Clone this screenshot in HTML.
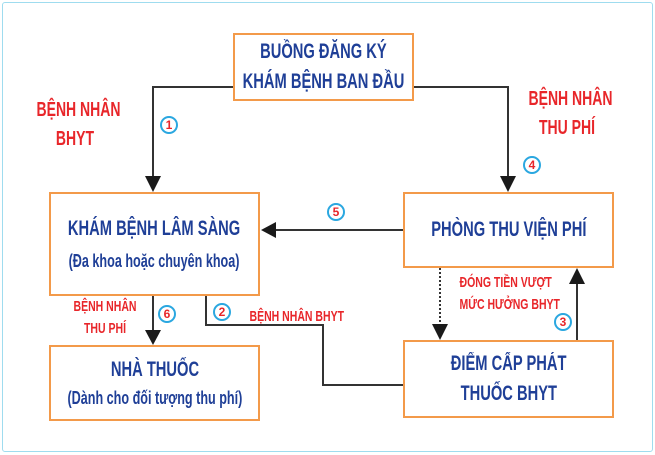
<!DOCTYPE html>
<html><head><meta charset="utf-8"><style>
body{margin:0;width:655px;height:455px;background:#fff;overflow:hidden;position:relative;font-family:"Liberation Sans",sans-serif;font-weight:bold}
.frame{position:absolute;left:2px;top:2px;width:649px;height:448px;border:1.5px solid #9fdcef;border-radius:3px}
.box{position:absolute;border:2px solid #f39a4a;background:#fff;color:#1f3f97;text-align:center;box-sizing:border-box;display:flex;flex-direction:column;justify-content:center;align-items:center}
span{display:block;white-space:nowrap;transform:scaleX(.7);transform-origin:center}
.t{font-size:21px;line-height:30px}
.s{font-size:18px;line-height:27px}
.r{position:absolute;color:#e8262a;font-size:20px;line-height:29px;text-align:center}
.rs{position:absolute;color:#e8262a;font-size:15px;line-height:22px;text-align:center}
.n{position:absolute;width:14px;height:14px;border:2px solid #2aa7e0;border-radius:50%;color:#e8262a;font-size:12px;line-height:14px;text-align:center;background:#fff;font-weight:900}
svg{position:absolute;left:0;top:0}
</style></head><body>
<div class="frame"></div>
<svg width="655" height="455">
<g stroke="#333" stroke-width="2" fill="none">
<polyline points="233,87 153,87 153,178"/>
<polyline points="413,87 508,87 508,178"/>
<line x1="403" y1="230" x2="274" y2="230"/>
<line x1="440" y1="268" x2="440" y2="326" stroke-dasharray="2,2"/>
<line x1="577" y1="340" x2="577" y2="282"/>
<line x1="153" y1="296" x2="153" y2="332"/>
<polyline points="206,296 206,325 323,325 323,385 403,385"/>
</g>
<g fill="#1a1a1a">
<polygon points="145,176 161,176 153,192"/>
<polygon points="500,176 516,176 508,192"/>
<polygon points="276,222 276,238 261,230"/>
<polygon points="432,324 448,324 440,340"/>
<polygon points="569,284 585,284 577,268"/>
<polygon points="145,330 161,330 153,345"/>
</g>
</svg>
<div class="box" style="left:233px;top:33px;width:181px;height:68px"><span class="t">BUỒNG ĐĂNG KÝ</span><span class="t">KHÁM BỆNH BAN ĐẦU</span></div>
<div class="box" style="left:49px;top:192px;width:211px;height:104px"><span class="t">KHÁM BỆNH LÂM SÀNG</span><span class="s" style="margin-top:4px">(Đa khoa hoặc chuyên khoa)</span></div>
<div class="box" style="left:403px;top:192px;width:211px;height:76px"><span class="t">PHÒNG THU VIỆN PHÍ</span></div>
<div class="box" style="left:49px;top:345px;width:211px;height:76px"><span class="t">NHÀ THUỐC</span><span class="s">(Dành cho đối tượng thu phí)</span></div>
<div class="box" style="left:403px;top:340px;width:211px;height:78px"><span class="t">ĐIỂM CẤP PHÁT</span><span class="t">THUỐC BHYT</span></div>
<div class="r" style="left:20px;top:96px;width:110px"><span>BỆNH NHÂN</span><span>BHYT</span></div>
<div class="r" style="left:512px;top:85px;width:110px"><span>BỆNH NHÂN</span><span>THU PHÍ</span></div>
<div class="rs" style="left:55px;top:296px;width:100px"><span>BỆNH NHÂN</span><span>THU PHÍ</span></div>
<div class="rs" style="left:230px;top:306px;width:130px"><span>BỆNH NHÂN BHYT</span></div>
<div class="rs" style="left:440px;top:272px;width:130px"><span>ĐÓNG TIỀN VƯỢT</span><span>MỨC HƯỞNG BHYT</span></div>
<div class="n" style="left:160px;top:116px">1</div>
<div class="n" style="left:213px;top:303px">2</div>
<div class="n" style="left:554px;top:313px">3</div>
<div class="n" style="left:523px;top:156px">4</div>
<div class="n" style="left:327px;top:203px">5</div>
<div class="n" style="left:158px;top:305px">6</div>
</body></html>
